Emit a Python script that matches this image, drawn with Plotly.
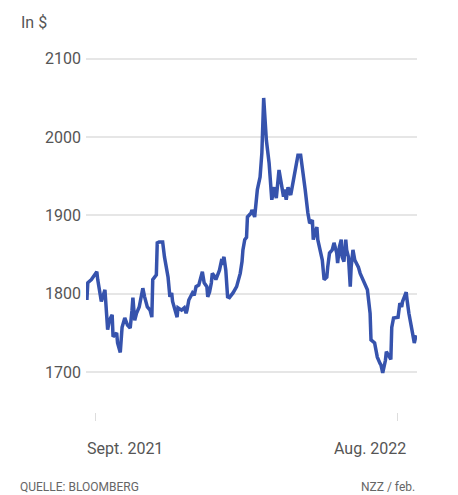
import plotly.graph_objects as go

# Gold price in USD
dates = [
    "2021-08-22", "2021-08-23", "2021-08-27", "2021-08-31", "2021-09-02", "2021-09-03",
    "2021-09-05", "2021-09-07", "2021-09-11", "2021-09-13", "2021-09-14", "2021-09-16",
    "2021-09-19", "2021-09-20", "2021-09-24", "2021-09-25", "2021-09-28", "2021-09-30",
    "2021-10-03", "2021-10-06", "2021-10-09", "2021-10-11", "2021-10-12", "2021-10-14",
    "2021-10-16", "2021-10-19", "2021-10-22", "2021-10-23", "2021-10-25", "2021-10-28",
    "2021-10-31", "2021-11-02", "2021-11-03", "2021-11-07", "2021-11-08", "2021-11-10",
    "2021-11-14", "2021-11-16", "2021-11-20", "2021-11-22", "2021-11-24", "2021-11-25",
    "2021-11-27", "2021-11-30", "2021-12-01", "2021-12-05", "2021-12-08", "2021-12-10",
    "2021-12-11", "2021-12-13", "2021-12-17", "2021-12-19", "2021-12-21", "2021-12-24",
    "2021-12-28", "2021-12-30", "2022-01-02", "2022-01-03", "2022-01-05", "2022-01-07",
    "2022-01-08", "2022-01-10", "2022-01-12", "2022-01-16", "2022-01-18", "2022-01-19",
    "2022-01-21", "2022-01-23", "2022-01-25", "2022-01-27", "2022-01-31", "2022-02-04",
    "2022-02-08", "2022-02-10", "2022-02-11", "2022-02-13", "2022-02-15", "2022-02-16",
    "2022-02-20", "2022-02-21", "2022-02-24", "2022-02-26", "2022-02-27", "2022-03-02",
    "2022-03-04", "2022-03-06", "2022-03-09", "2022-03-12", "2022-03-14", "2022-03-15",
    "2022-03-18", "2022-03-20", "2022-03-23", "2022-03-25", "2022-03-28", "2022-03-29",
    "2022-03-31", "2022-04-02", "2022-04-05", "2022-04-08", "2022-04-11", "2022-04-13",
    "2022-04-16", "2022-04-18", "2022-04-19", "2022-04-21", "2022-04-24", "2022-04-26",
    "2022-04-29", "2022-04-30", "2022-05-02", "2022-05-04", "2022-05-05", "2022-05-10",
    "2022-05-12", "2022-05-15", "2022-05-16", "2022-05-18", "2022-05-21", "2022-05-23",
    "2022-05-26", "2022-05-27", "2022-05-29", "2022-05-31", "2022-06-01", "2022-06-03",
    "2022-06-05", "2022-06-06", "2022-06-08", "2022-06-10", "2022-06-11", "2022-06-13",
    "2022-06-15", "2022-06-19", "2022-06-21", "2022-06-24", "2022-06-27", "2022-06-29",
    "2022-07-02", "2022-07-03", "2022-07-07", "2022-07-08", "2022-07-10", "2022-07-13",
    "2022-07-14", "2022-07-16", "2022-07-19", "2022-07-20", "2022-07-25", "2022-07-26",
    "2022-07-28", "2022-08-02", "2022-08-04", "2022-08-06", "2022-08-07", "2022-08-09",
    "2022-08-11", "2022-08-12", "2022-08-14", "2022-08-18", "2022-08-20", "2022-08-22",
]
prices = [
    1792, 1814, 1818, 1826, 1828, 1818,
    1801, 1790, 1805, 1775, 1754, 1766,
    1773, 1745, 1750, 1737, 1725, 1757,
    1769, 1760, 1756, 1779, 1795, 1766,
    1775, 1783, 1805, 1807, 1796, 1783,
    1779, 1770, 1818, 1824, 1865, 1866,
    1866, 1847, 1821, 1796, 1801, 1790,
    1782, 1770, 1782, 1779, 1782, 1775,
    1779, 1792, 1801, 1798, 1809, 1811,
    1828, 1814, 1809, 1796, 1802, 1814,
    1826, 1823, 1818, 1830, 1841, 1840,
    1847, 1830, 1796, 1795, 1801, 1809,
    1826, 1841, 1856, 1869, 1872, 1898,
    1903, 1907, 1898, 1920, 1933, 1949,
    1980, 2050, 1996, 1967, 1933, 1920,
    1936, 1922, 1958, 1945, 1924, 1933,
    1920, 1936, 1926, 1945, 1962, 1977,
    1977, 1962, 1949, 1933, 1903, 1890,
    1894, 1869, 1878, 1885, 1869, 1843,
    1818, 1821, 1834, 1852, 1856, 1865,
    1852, 1839, 1860, 1869, 1847, 1841,
    1869, 1856, 1847, 1809, 1834, 1856,
    1843, 1834, 1826, 1818, 1809, 1805,
    1775, 1741, 1737, 1732, 1719, 1711,
    1709, 1699, 1715, 1726, 1716, 1757,
    1769, 1770, 1788, 1783, 1790, 1796,
    1802, 1792, 1775, 1750, 1737, 1747,
]

y_tick_values = [1700, 1800, 1900, 2000, 2100]
x_tick_dates = ["2021-09-01", "2022-08-01"]
x_tick_labels = ["Sept. 2021", "Aug. 2022"]
x_label_shift = [29, -27]

unit_label = "In $"
source_text = "QUELLE: BLOOMBERG"
credit_text = "NZZ / feb."

FONT = "Roboto, Liberation Sans, Arial, sans-serif"
TEXT_COLOR = "#555555"

fig = go.Figure()
fig.add_trace(go.Scatter(
    x=dates, y=prices, mode="lines",
    line=dict(color="#3653ad", width=3.5),
    hoverinfo="skip", showlegend=False,
))

for d, lab, sh in zip(x_tick_dates, x_tick_labels, x_label_shift):
    fig.add_annotation(
        x=d, xref="x", y=0, yref="paper", yanchor="top",
        text=lab, showarrow=False, xanchor="center", xshift=sh, yshift=-25,
        font=dict(family=FONT, size=16, color=TEXT_COLOR),
    )

fig.add_annotation(
    x=0, xref="paper", y=1, yref="paper", text=unit_label, showarrow=False,
    xanchor="left", yanchor="middle", xshift=-67, yshift=29,
    font=dict(family=FONT, size=16, color=TEXT_COLOR),
)
fig.add_annotation(
    x=0, xref="paper", y=0, yref="paper", text=source_text, showarrow=False,
    xanchor="left", yanchor="middle", xshift=-68, yshift=-75,
    font=dict(family=FONT, size=12, color="#666666"),
)
fig.add_annotation(
    x=1, xref="paper", y=0, yref="paper", text=credit_text, showarrow=False,
    xanchor="right", yanchor="middle", xshift=0, yshift=-75,
    font=dict(family=FONT, size=12, color="#666666"),
)

fig.update_layout(
    width=458, height=495,
    margin=dict(l=78, r=49, t=43, b=91),
    paper_bgcolor="white", plot_bgcolor="white",
    font=dict(family=FONT, color=TEXT_COLOR),
    xaxis=dict(
        type="date",
        range=["2021-08-21", "2022-08-23"],
        tickvals=x_tick_dates,
        ticktext=["", ""],
        ticks="outside", ticklen=8, tickwidth=1, tickcolor="#dddddd",
        showgrid=False, zeroline=False, showline=False,
    ),
    yaxis=dict(
        range=[1648.9, 2110],
        tickvals=y_tick_values,
        ticks="", showline=False, zeroline=False,
        showgrid=True, gridcolor="#e6e6e6", gridwidth=1.5,
        tickfont=dict(family=FONT, size=16, color=TEXT_COLOR),
        ticklabelstandoff=4,
    ),
)

fig.write_html("out.html")
